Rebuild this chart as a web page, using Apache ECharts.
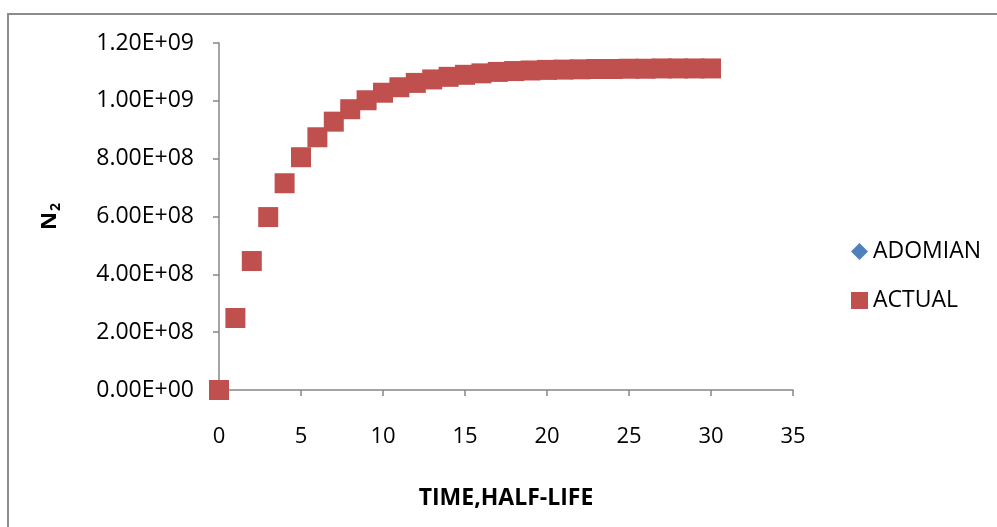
<!DOCTYPE html>
<html>
<head>
<meta charset="utf-8">
<script src="https://cdn.jsdelivr.net/npm/echarts@6/dist/echarts.min.js"></script>
<style>html,body{margin:0;padding:0;background:#fff}#c{width:997px;height:527px}</style>
</head>
<body>
<div id="c"></div>
<script>
var time = [0,1,2,3,4,5,6,7,8,9,10,11,12,13,14,15,16,17,18,19,20,21,22,23,24,25,26,27,28,29,30];
var actual = [0,2.49e8,4.46e8,5.98e8,7.15e8,8.05e8,8.74e8,9.28e8,9.71e8,1.002e9,1.028e9,1.047e9,1.062e9,1.074e9,1.083e9,1.090e9,1.095e9,1.100e9,1.103e9,1.105e9,1.107e9,1.108e9,1.109e9,1.110e9,1.110e9,1.111e9,1.111e9,1.112e9,1.112e9,1.112e9,1.112e9];
var adomian = [0,2.49e8,4.46e8,5.98e8,7.15e8,8.05e8,8.74e8,9.28e8,9.71e8,1.002e9,1.028e9,1.047e9,1.062e9,1.074e9,1.083e9,1.090e9,1.095e9,1.100e9,1.103e9,1.105e9,1.107e9,1.108e9,1.109e9,1.110e9,1.110e9,1.111e9,1.111e9,1.112e9,1.112e9,1.112e9,1.112e9];
var seriesNames = ['ADOMIAN','ACTUAL'];

function pairs(xs, ys){ return xs.map(function(x,i){ return [x, ys[i]]; }); }
function sci(v){
  if (v === 0) return '0.00E+00';
  var e = Math.floor(Math.log10(Math.abs(v)) + 1e-9);
  var m = v / Math.pow(10, e);
  var es = (e < 10 ? '0' : '') + e;
  return m.toFixed(2) + 'E+' + es;
}
var FONT = '"Open Sans", Lato, sans-serif';
var axisColor = '#868686';
var chart = echarts.init(document.getElementById('c'));
chart.setOption({
  animation: false,
  graphic: [{
    type: 'rect', silent: true,
    shape: {x: 8, y: 14, width: 1100, height: 700},
    style: {fill: 'none', stroke: '#8c8c8c', lineWidth: 2}
  }],
  grid: {left: 219, right: 204, top: 43, bottom: 137, containLabel: false},
  legend: {
    orient: 'vertical', left: 846, top: 235, itemGap: 26,
    itemWidth: 17, itemHeight: 17,
    textStyle: {fontFamily: FONT, fontSize: 23, lineHeight: 22, color: '#000', padding: [0,0,0,0]},
    data: [{name: 'ADOMIAN', icon: 'diamond'}, {name: 'ACTUAL', icon: 'rect'}]
  },
  xAxis: {
    type: 'value', min: 0, max: 35, interval: 5,
    name: 'TIME,HALF-LIFE', nameLocation: 'middle', nameGap: 97,
    nameTextStyle: {fontFamily: FONT, fontSize: 23, fontWeight: 'bold', color: '#000'},
    axisLine: {show: true, lineStyle: {color: axisColor, width: 1.5}},
    axisTick: {show: true, inside: false, length: 6, lineStyle: {color: axisColor, width: 1.5}},
    axisLabel: {fontFamily: FONT, fontSize: 22, color: '#000', margin: 36},
    splitLine: {show: false}
  },
  yAxis: {
    type: 'value', min: 0, max: 1.2e9, interval: 2e8,
    name: '{n|N}{s|2}', nameLocation: 'middle', nameGap: 156, nameRotate: 90,
    nameTextStyle: {
      rich: {
        n: {fontFamily: FONT, fontSize: 22, fontWeight: 'bold', color: '#000', lineHeight: 26},
        s: {fontFamily: FONT, fontSize: 14, fontWeight: 'bold', color: '#000', lineHeight: 26, verticalAlign: 'bottom', padding: [9,0,0,1]}
      }
    },
    axisLine: {show: true, lineStyle: {color: axisColor, width: 1.5}},
    axisTick: {show: true, inside: false, length: 6, lineStyle: {color: axisColor, width: 1.5}},
    axisLabel: {fontFamily: FONT, fontSize: 23, color: '#000', margin: 25, formatter: sci},
    splitLine: {show: false}
  },
  series: [
    {name: seriesNames[0], type: 'scatter', symbol: 'diamond', symbolSize: 14,
     itemStyle: {color: '#4F81BD', opacity: 1}, data: pairs(time, adomian), z: 2},
    {name: seriesNames[1], type: 'scatter', symbol: 'rect', symbolSize: 20,
     itemStyle: {color: '#C0504D', opacity: 1}, data: pairs(time, actual), z: 3}
  ]
});
</script>
</body>
</html>
